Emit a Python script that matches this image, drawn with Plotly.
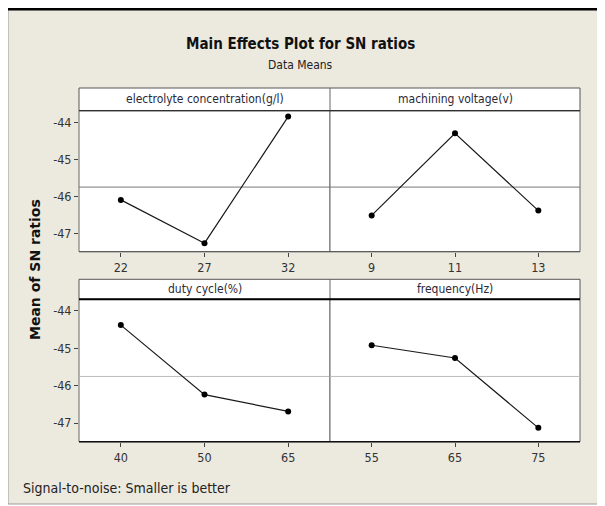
import numpy as np
import plotly.graph_objects as go

# the page body has an 8px margin, so the figure is drawn 8px in from the top-left
OFF = 8
W, H = 605 - OFF, 506 - OFF

# ---- data ----
factors = ["electrolyte concentration(g/l)", "machining voltage(v)", "duty cycle(%)", "frequency(Hz)"]
levels_electrolyte = ["22", "27", "32"]
levels_voltage = ["9", "11", "13"]
levels_duty = ["40", "50", "65"]
levels_freq = ["55", "65", "75"]
sn_electrolyte = [-46.10, -47.27, -43.85]
sn_voltage = [-46.52, -44.30, -46.39]
sn_duty = [-44.38, -46.24, -46.69]
sn_freq = [-44.92, -45.26, -47.13]
y_tickvals = [-44, -45, -46, -47]
y_ticktext = ["-44", "-45", "-46", "-47"]

title = "Main Effects Plot for SN ratios"
subtitle = "Data Means"
y_title = "Mean of SN ratios"
footer = "Signal-to-noise: Smaller is better"

levels = [levels_electrolyte, levels_voltage, levels_duty, levels_freq]
values = [sn_electrolyte, sn_voltage, sn_duty, sn_freq]
grand_mean = float(np.mean(np.concatenate([np.array(v) for v in values])))

FONT = "DejaVu Sans Condensed"

def px(x):
    return (x - OFF) / W

def py(y):
    return 1 - (y - OFF) / H

# panel pixel boxes (page coordinates): (x0, x1, ytop, ybottom)
panels = [
    (79, 330, 110.7, 251.7),
    (330, 580, 110.7, 251.7),
    (79, 330, 299.3, 441.7),
    (330, 580, 299.3, 441.7),
]
strips = [(88, 110.7), (279.3, 299.3)]

fig = go.Figure()
shapes = []
annotations = []

# background frame
shapes.append(dict(type="rect", xref="paper", yref="paper", x0=px(8), x1=px(612), y0=py(504), y1=py(9),
                   fillcolor="#ECE9DF", line=dict(color="#9a9a9a", width=1), layer="below"))
shapes.append(dict(type="line", xref="paper", yref="paper", x0=px(7), x1=px(612), y0=py(9), y1=py(9),
                   line=dict(color="#000000", width=3), layer="below"))

for i, (x0, x1, yt, yb) in enumerate(panels):
    n = "" if i == 0 else str(i + 1)
    xa = "xaxis" + n
    ya = "yaxis" + n
    fig.add_trace(go.Scatter(
        x=levels[i], y=values[i], mode="lines+markers",
        line=dict(color="#1a1a1a", width=1.2),
        marker=dict(color="#000000", size=6),
        xaxis="x" + n, yaxis="y" + n, showlegend=False, hoverinfo="x+y"))
    left = (i % 2 == 0)
    fig.layout[xa] = dict(domain=[px(x0), px(x1)], anchor="y" + n, type="category",
                          range=[-0.5, 2.5], showgrid=False, zeroline=False,
                          showline=False, ticks="outside", ticklen=4, tickwidth=1, tickcolor="#444",
                          tickfont=dict(family=FONT, size=12.5, color="#333"))
    fig.layout[ya] = dict(domain=[py(yb), py(yt)], anchor="x" + n, range=[-47.5, -43.69],
                          showgrid=False, zeroline=False, showline=False,
                          tickvals=y_tickvals if left else [], ticktext=y_ticktext if left else [],
                          showticklabels=left, ticks="outside" if left else "", ticklen=4, tickwidth=1,
                          tickcolor="#444", tickfont=dict(family=FONT, size=12.5, color="#333"))
    # panel background
    shapes.append(dict(type="rect", xref="paper", yref="paper", x0=px(x0), x1=px(x1), y0=py(yb), y1=py(yt),
                       fillcolor="white", line=dict(color="#666", width=1), layer="below"))
    # grand mean reference line
    top_row = i < 2
    shapes.append(dict(type="line", xref="x" + n + " domain", yref="y" + n, x0=0, x1=1,
                       y0=grand_mean, y1=grand_mean,
                       line=dict(color="#777" if top_row else "#bbb", width=1), layer="below"))
    # bottom axis line
    shapes.append(dict(type="line", xref="paper", yref="paper", x0=px(x0), x1=px(x1), y0=py(yb), y1=py(yb),
                       line=dict(color="#555" if top_row else "#111", width=1 if top_row else 1.5)))

# strips
for r, (st, sb) in enumerate(strips):
    shapes.append(dict(type="rect", xref="paper", yref="paper", x0=px(79), x1=px(580), y0=py(sb), y1=py(st),
                       fillcolor="white", line=dict(color="#555", width=1), layer="below"))
    shapes.append(dict(type="line", xref="paper", yref="paper", x0=px(330), x1=px(330), y0=py(sb), y1=py(st),
                       line=dict(color="#666", width=1)))
    shapes.append(dict(type="line", xref="paper", yref="paper", x0=px(79), x1=px(580), y0=py(sb), y1=py(sb),
                       line=dict(color="#222" if r == 0 else "#000", width=1 if r == 0 else 2)))
    for c in range(2):
        cx = (79 + 330) / 2 if c == 0 else (330 + 580) / 2
        annotations.append(dict(text=factors[r * 2 + c], xref="paper", yref="paper", x=px(cx),
                                y=py((st + sb) / 2), showarrow=False, xanchor="center", yanchor="middle",
                                font=dict(family=FONT, size=12, color="#2a2a3a")))

annotations += [
    dict(text="<b>" + title + "</b>", xref="paper", yref="paper", x=px(300), y=py(44), showarrow=False,
         xanchor="center", yanchor="middle", font=dict(family=FONT, size=15, color="#111")),
    dict(text=subtitle, xref="paper", yref="paper", x=px(300), y=py(65), showarrow=False,
         xanchor="center", yanchor="middle", font=dict(family=FONT, size=12, color="#222")),
    dict(text="<b>" + y_title + "</b>", xref="paper", yref="paper", x=px(35), y=py(270), showarrow=False,
         textangle=-90, xanchor="center", yanchor="middle", font=dict(family="DejaVu Sans", size=14, color="#111")),
    dict(text=footer, xref="paper", yref="paper", x=px(21), y=py(488), showarrow=False,
         xanchor="left", yanchor="middle", font=dict(family=FONT, size=14, color="#222")),
]

fig.update_layout(width=W, height=H, margin=dict(l=0, r=0, t=0, b=0),
                  paper_bgcolor="white", plot_bgcolor="rgba(0,0,0,0)",
                  shapes=shapes, annotations=annotations, showlegend=False)

fig.write_html("out.html")
